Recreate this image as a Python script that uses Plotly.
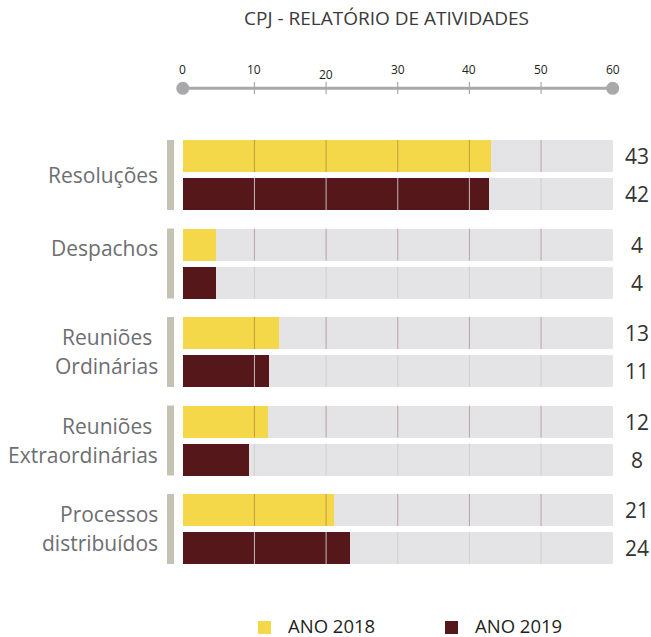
import plotly.graph_objects as go

# ---------------- data ----------------
categories = ["Resoluções", "Despachos", "Reuniões Ordinárias",
              "Reuniões Extraordinárias", "Processos distribuídos"]
category_lines = [["Resoluções"], ["Despachos"], ["Reuniões\u00a0", "Ordinárias"],
                  ["Reuniões\u00a0", "Extraordinárias"], ["Processos", "distribuídos"]]
series_names = ["ANO 2018", "ANO 2019"]
values_2018 = [43, 4, 13, 12, 21]          # printed values
values_2019 = [42, 4, 11, 8, 24]
bar_len_2018 = [43.0, 4.6, 13.4, 11.9, 21.1]   # drawn bar lengths
bar_len_2019 = [42.7, 4.6, 12.0, 9.2, 23.3]
axis_ticks = [0, 10, 20, 30, 40, 50, 60]
title_text = "CPJ - RELATÓRIO DE ATIVIDADES"

# ---------------- styling / geometry ----------------
W, H = 651, 637
X0, X60 = 182.8, 612.7
PX = (X60 - X0) / 60.0
Y0, PITCH = 175.0, 88.5
BW = 32 / PITCH
OFF = 19 / PITCH
YELLOW = "#f4d84a"
MAROON = "#55171a"
TRACK = "#e4e4e6"
SEP = "#c5c2b4"
AXIS_GREY = "#a9a9ab"
FONT = "Open Sans"


def xu(px):
    return (px - X0) / PX


def yu(px):
    return (px - Y0) / PITCH


n = len(categories)
y18 = [i - OFF for i in range(n)]
y19 = [i + OFF for i in range(n)]

fig = go.Figure()

# background tracks
fig.add_trace(go.Bar(x=[axis_ticks[-1]] * (2 * n), y=y18 + y19, orientation="h",
                     width=BW, marker=dict(color=TRACK, line=dict(width=0)),
                     base=0, showlegend=False, hoverinfo="skip"))
fig.add_trace(go.Bar(x=bar_len_2018, y=y18, orientation="h", width=BW, base=0,
                     marker=dict(color=YELLOW, line=dict(width=0)),
                     name=series_names[0], showlegend=False))
fig.add_trace(go.Bar(x=bar_len_2019, y=y19, orientation="h", width=BW, base=0,
                     marker=dict(color=MAROON, line=dict(width=0)),
                     name=series_names[1], showlegend=False))

shapes = []
# in-bar gridlines
for t in axis_ticks[1:-1]:
    for yc in y18:
        shapes.append(dict(type="line", xref="x", yref="y", x0=t, x1=t,
                           y0=yc - BW / 2, y1=yc + BW / 2, layer="above",
                           line=dict(color="rgba(110,40,40,0.35)", width=1)))
    for yc in y19:
        shapes.append(dict(type="line", xref="x", yref="y", x0=t, x1=t,
                           y0=yc - BW / 2, y1=yc + BW / 2, layer="above",
                           line=dict(color="rgba(205,205,205,0.9)", width=1)))
# group separators
for i in range(n):
    shapes.append(dict(type="rect", xref="x", yref="y", x0=xu(167), x1=xu(174),
                       y0=y18[i] - BW / 2, y1=y19[i] + BW / 2,
                       fillcolor=SEP, line=dict(width=0), layer="above"))
# top axis
AX_Y = yu(88.3)
shapes.append(dict(type="line", xref="x", yref="y", x0=axis_ticks[0], x1=axis_ticks[-1],
                   y0=AX_Y, y1=AX_Y, line=dict(color=AXIS_GREY, width=3)))
for t in axis_ticks[1:-1]:
    shapes.append(dict(type="line", xref="x", yref="y", x0=t, x1=t,
                       y0=yu(82), y1=yu(94), line=dict(color=AXIS_GREY, width=1.2)))

fig.add_trace(go.Scatter(x=[axis_ticks[0], axis_ticks[-1]], y=[AX_Y, AX_Y], mode="markers",
                         marker=dict(size=13, color=AXIS_GREY), cliponaxis=False,
                         showlegend=False, hoverinfo="skip"))

ann = []
ann.append(dict(x=xu(386.5), y=yu(18), text=title_text, showarrow=False,
                xanchor="center", yanchor="middle",
                font=dict(family=FONT, size=19, color="#3a3a3a")))
for t in axis_ticks:
    ann.append(dict(x=t, y=yu(69.5), text=str(t), showarrow=False,
                    xanchor="center", yanchor="middle", yshift=-5 if t == 20 else 0,
                    font=dict(family=FONT, size=12, color="#231f20")))
for i in range(n):
    ann.append(dict(x=xu(637), y=y18[i], text=str(values_2018[i]), showarrow=False,
                    xanchor="center", yanchor="middle",
                    font=dict(family=FONT, size=21, color="#333333")))
    ann.append(dict(x=xu(637), y=y19[i], text=str(values_2019[i]), showarrow=False,
                    xanchor="center", yanchor="middle",
                    font=dict(family=FONT, size=21, color="#333333")))
for i, lines in enumerate(category_lines):
    if len(lines) == 1:
        offs = [0]
    else:
        offs = [-15, 14]
    shift = 16 if i == 1 else 0
    for line, o in zip(lines, offs):
        ann.append(dict(x=xu(160), y=i + o / PITCH, text=line, showarrow=False,
                        xanchor="right", yanchor="middle", yshift=shift,
                        font=dict(family=FONT, size=21, color="#6d6e71")))

# legend (manual)
leg_sq_x = [264.5, 451.5]
leg_colors = [YELLOW, MAROON]
fig.add_trace(go.Scatter(x=[xu(v) for v in leg_sq_x], y=[yu(627.5)] * 2, mode="markers",
                         marker=dict(symbol="square", size=13, color=leg_colors),
                         cliponaxis=False, showlegend=False, hoverinfo="skip"))
for sx, name in zip(leg_sq_x, series_names):
    ann.append(dict(x=xu(sx + 22), y=yu(625), text=name, showarrow=False,
                    xanchor="left", yanchor="middle", borderpad=0,
                    font=dict(family=FONT, size=18.5, color="#231f20")))

fig.update_layout(
    width=W, height=H, margin=dict(l=0, r=0, t=0, b=0),
    paper_bgcolor="white", plot_bgcolor="white",
    barmode="overlay", bargap=0,
    xaxis=dict(range=[xu(0), xu(W)], visible=False, fixedrange=True),
    yaxis=dict(range=[yu(H), yu(0)], visible=False, fixedrange=True),
    shapes=shapes, annotations=ann, showlegend=False,
)
fig.write_html("out.html", config={"displayModeBar": False},
               post_script="document.body.style.margin='0';document.body.style.overflow='hidden';")
